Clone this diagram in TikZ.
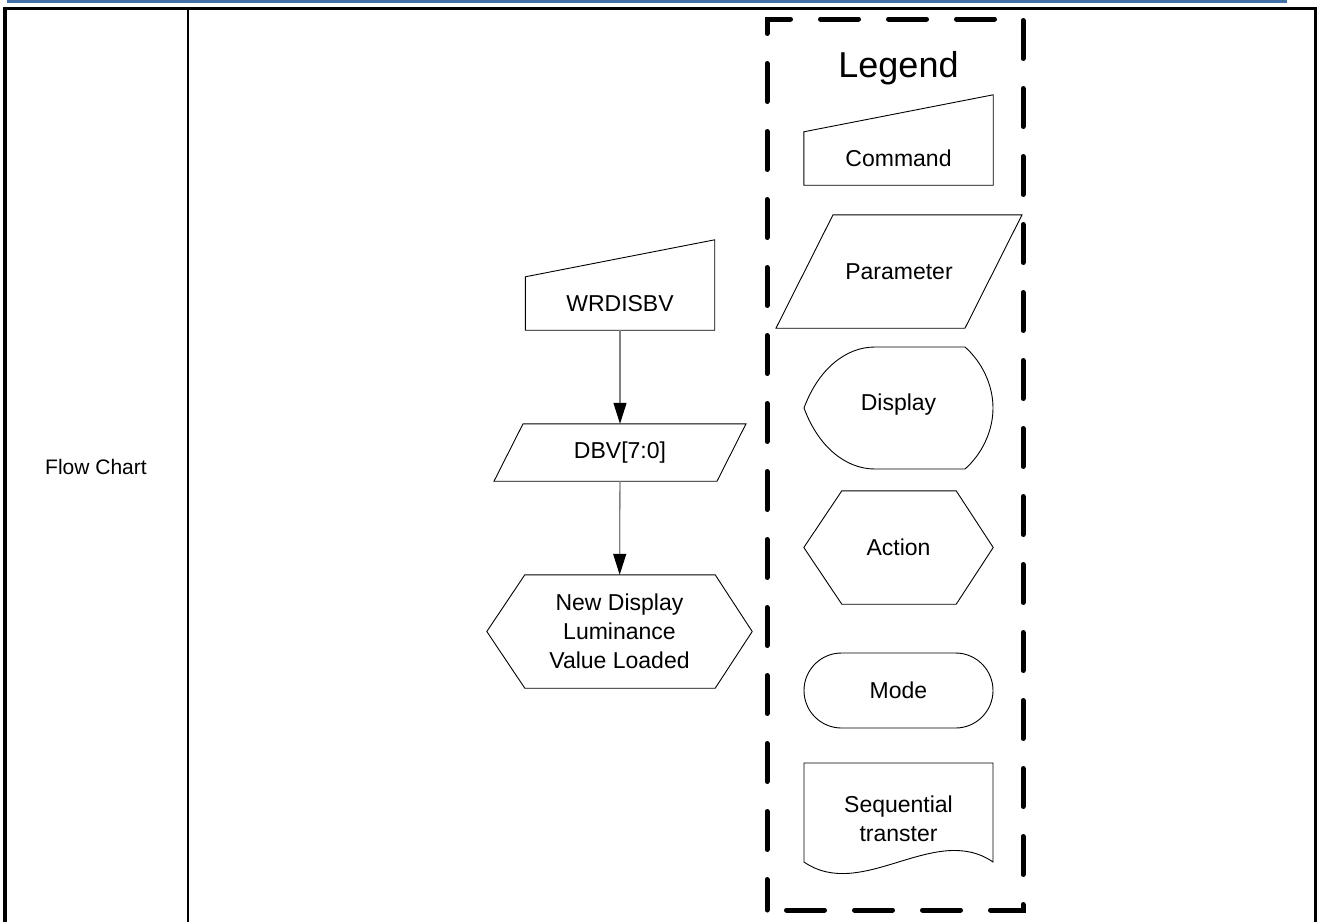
\documentclass[tikz,border=0pt]{standalone}
\usepackage{fontspec}
\setmainfont{Liberation Sans}
\usetikzlibrary{arrows.meta, calc}
\definecolor{tablerule}{RGB}{65,113,167}
\tikzset{
  txt/.style={inner sep=0pt, align=center, font=\fontsize{23}{29}\selectfont},
  shapebox/.style={txt, rectangle, minimum width=189pt},
  outline/.style={draw=black, line width=0.9pt},
  flowarrow/.style={-{Triangle[length=21pt, width=13pt, color=black]}, draw=gray, line width=1.3pt},
  legendframe/.style={line width=5pt, dash pattern=on 38pt off 30pt, dash phase=7.5pt, line cap=round},
}

\begin{document}
\begin{tikzpicture}[x=1pt, y=-1pt]
  \useasboundingbox (0,0) rectangle (1322,922);

  % ---- Tableau ----
  \draw[tablerule, line width=2.7pt] (7,1.35) -- (1287,1.35);
  \draw[line width=2.5pt] (3,8.5) -- (1317,8.5);
  \draw[line width=3.4pt] (5,7) -- (5,922);
  \draw[line width=2.4pt] (1315.5,7) -- (1315.5,922);
  \draw[line width=2pt] (188,8) -- (188,922);
  \node[txt, font=\fontsize{21}{25}\selectfont] (flowlabel) at (96,466.5) {Flow Chart};

  % ---- Organigramme ----
  \node[shapebox, minimum height=53pt] (wrdisbv) at (620,303.5) {WRDISBV};
  \draw[outline] (wrdisbv.south west) -- (wrdisbv.north west)
        -- ([yshift=37pt]wrdisbv.north east) -- (wrdisbv.south east) -- cycle;

  \node[txt, minimum height=57pt] (dbv) at (620,452.5) {DBV[7:0]};
  \draw[outline] ([xshift=-126pt]dbv.south) -- ([xshift=97pt]dbv.south)
        -- ([xshift=126pt]dbv.north) -- ([xshift=-97pt]dbv.north) -- cycle;

  \node[txt, minimum width=265pt, minimum height=113pt] (newlum) at (619.5,631.5)
        {New Display\\Luminance\\Value Loaded};
  \draw[outline] (newlum.west) -- ([xshift=38pt]newlum.north west)
        -- ([xshift=-37pt]newlum.north east) -- (newlum.east)
        -- ([xshift=-37pt]newlum.south east) -- ([xshift=38pt]newlum.south west) -- cycle;

  \draw[flowarrow] (wrdisbv) -- (dbv);
  \draw[flowarrow] (dbv) -- (newlum);

  % ---- Legende ----
  \draw[legendframe] (767,910) -- (767,19) -- (1023,19) -- (1023,910) -- cycle;
  \node[txt, font=\fontsize{36}{40}\selectfont] (legendtitle) at (898.5,68) {Legend};

  \node[shapebox, minimum height=53pt] (lgcmd) at (898.5,158.5) {Command};
  \draw[outline] (lgcmd.south west) -- (lgcmd.north west)
        -- ([yshift=37pt]lgcmd.north east) -- (lgcmd.south east) -- cycle;

  \node[txt, minimum height=113pt] (lgparam) at (899,271.5) {Parameter};
  \draw[outline] ([xshift=-123pt]lgparam.south) -- ([xshift=66pt]lgparam.south)
        -- ([xshift=123pt]lgparam.north) -- ([xshift=-66pt]lgparam.north) -- cycle;

  \node[txt] (lgdisp) at (898.5,405) {Display};
  \begin{scope}[shift={(898.5,408)}]
    \draw[outline] (-94.5,0) .. controls (-80.5,-38) and (-53.5,-61) .. (-23.5,-61)
          -- (66.5,-61) .. controls (83.5,-46) and (94.5,-23) .. (94.5,0)
          .. controls (94.5,23) and (83.5,46) .. (66.5,61)
          -- (-23.5,61) .. controls (-53.5,61) and (-80.5,38) .. (-94.5,0) -- cycle;
  \end{scope}

  \node[txt, minimum width=189pt, minimum height=113pt] (lgaction) at (898.5,547.5) {Action};
  \draw[outline] (lgaction.west) -- ([xshift=38pt]lgaction.north west)
        -- ([xshift=-37pt]lgaction.north east) -- (lgaction.east)
        -- ([xshift=-37pt]lgaction.south east) -- ([xshift=38pt]lgaction.south west) -- cycle;

  \node[shapebox, outline, minimum height=75pt, rounded corners=37.5pt] (lgmode) at (898.5,690.5) {Mode};

  \node[txt] (lgseq) at (898.5,818.5) {Sequential\\transter};
  \begin{scope}[shift={(898.5,818.5)}]
    \draw[outline] (-94.5,43.5) -- (-94.5,-55.5) -- (94.5,-55.5) -- (94.5,43.5)
          .. controls (36.5,3.5) and (-36.5,83.5) .. (-94.5,43.5) -- cycle;
  \end{scope}

\end{tikzpicture}
\end{document}
